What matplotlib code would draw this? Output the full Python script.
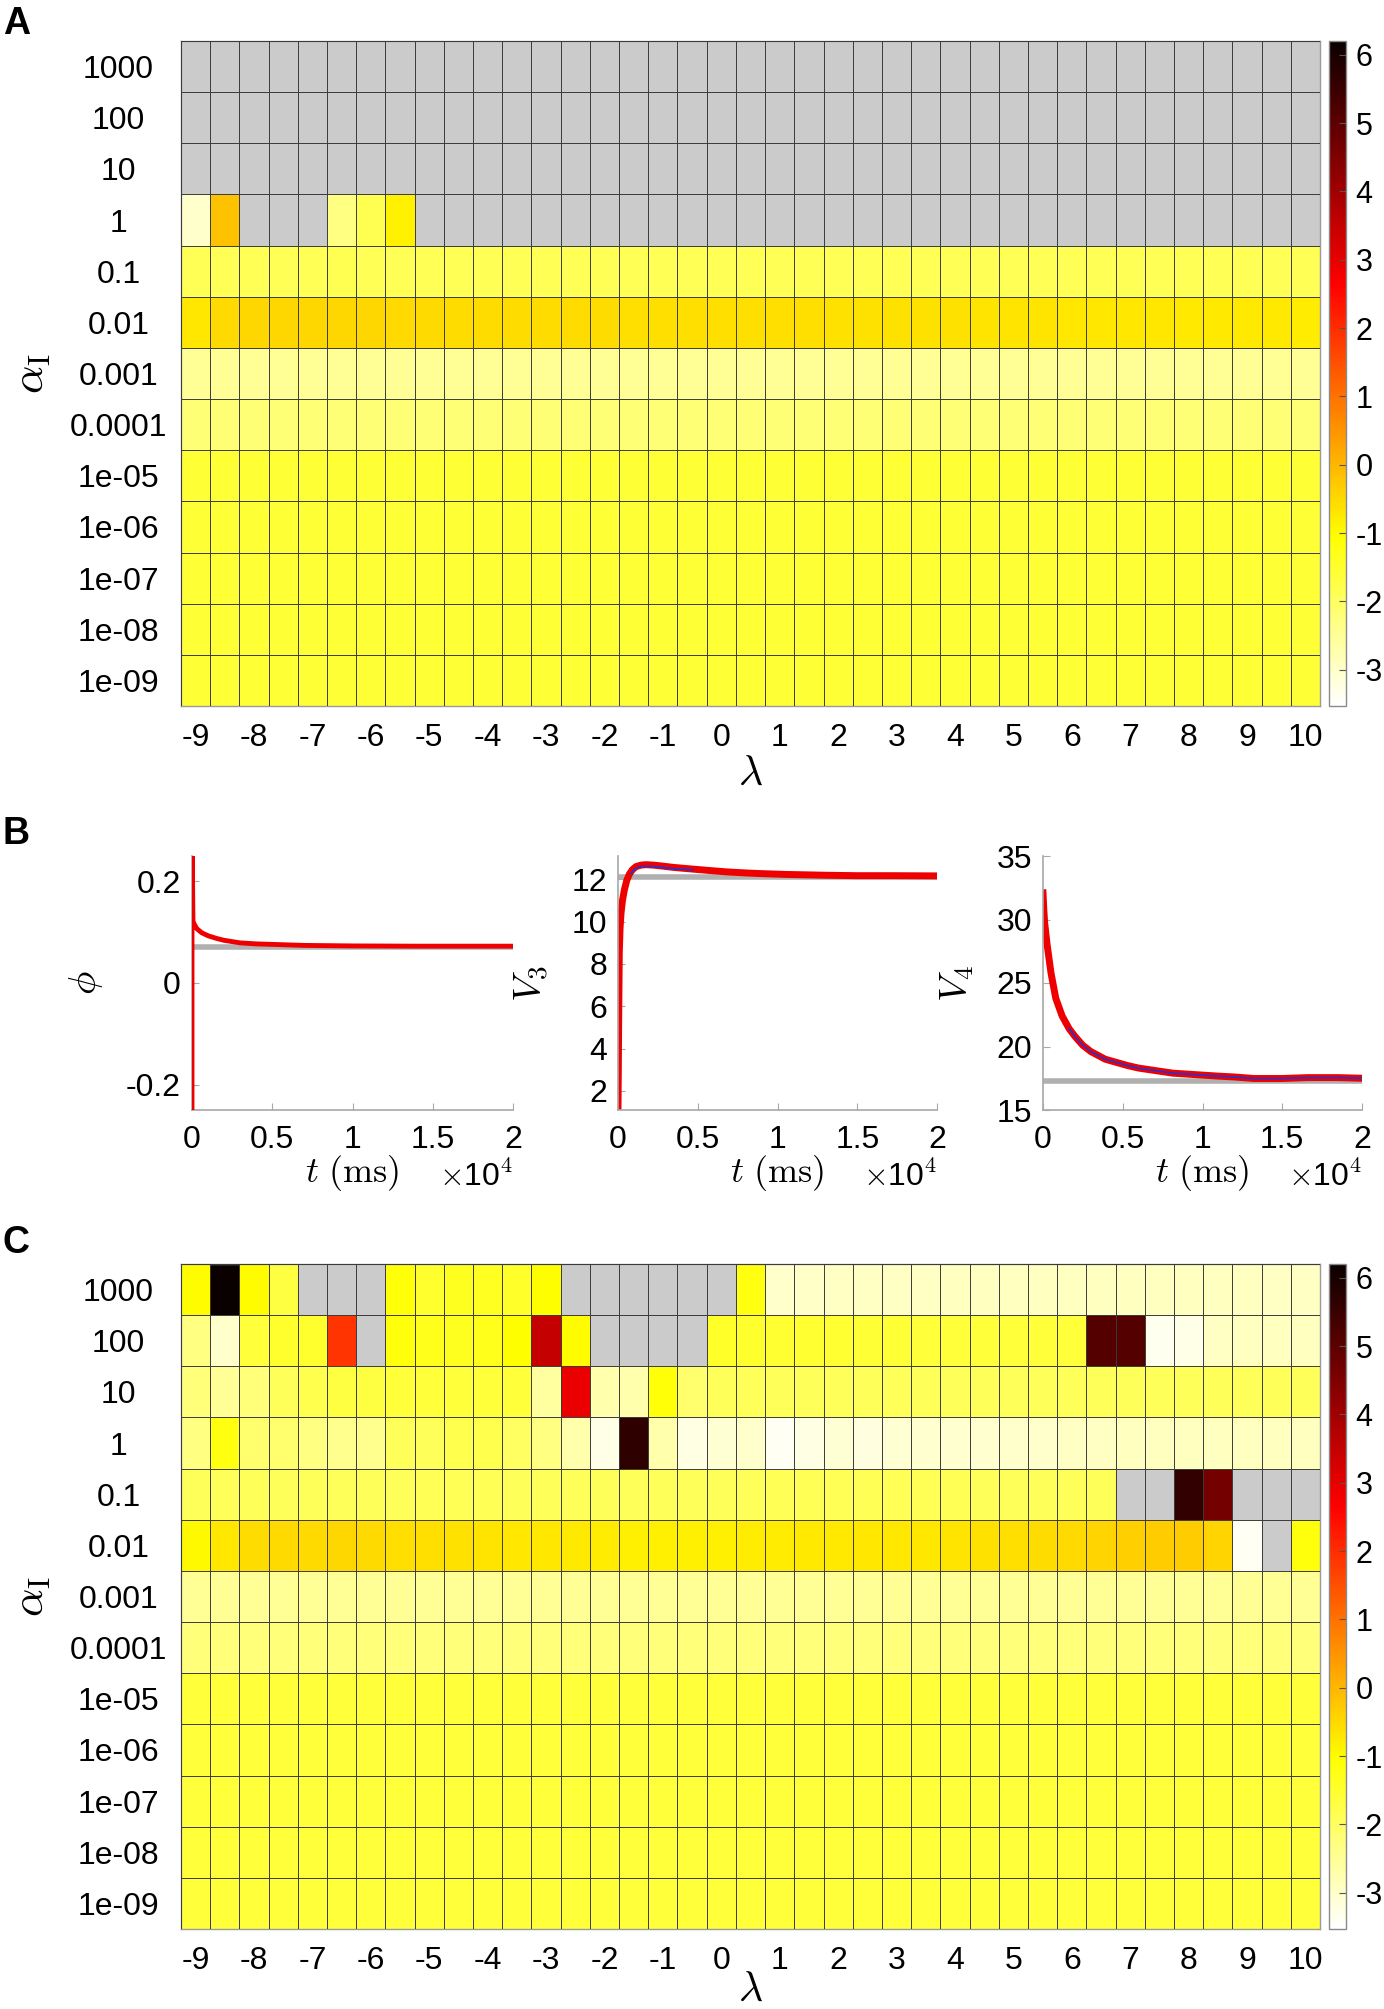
import numpy as np
import matplotlib
matplotlib.use('Agg')
import matplotlib.pyplot as plt
from matplotlib.colors import Normalize

plt.rcParams['font.family'] = ['Liberation Sans', 'DejaVu Sans']
plt.rcParams['mathtext.fontset'] = 'cm'
plt.rcParams['axes.unicode_minus'] = False

nan = np.nan

# ---------------- data ----------------
lambda_vals = [-9, -8.5, -8, -7.5, -7, -6.5, -6, -5.5, -5, -4.5, -4, -3.5, -3, -2.5,
               -2, -1.5, -1, -0.5, 0, 0.5, 1, 1.5, 2, 2.5, 3, 3.5, 4, 4.5, 5, 5.5,
               6, 6.5, 7, 7.5, 8, 8.5, 9, 9.5, 10]
alpha_labels = ['1000', '100', '10', '1', '0.1', '0.01', '0.001', '0.0001',
                '1e-05', '1e-06', '1e-07', '1e-08', '1e-09']
cbar_ticks = [-3, -2, -1, 0, 1, 2, 3, 4, 5, 6]
clim = (-3.53, 6.2)

# Panel A (log10 error), rows from alpha=1000 down to 1e-09
A_1000 = [nan] * 39
A_100 = [nan] * 39
A_10 = [nan] * 39
A_1 = [-3.0, -0.15, nan, nan, nan, -2.3, -1.85, -0.85] + [nan] * 31
A_0p1 = [-1.88, -1.86, -1.87, -1.86, -1.87, -1.85, -1.86, -1.87, -1.86, -1.87,
         -1.86, -1.86, -1.87, -1.86, -1.87, -1.86, -1.86, -1.87, -1.86, -1.87,
         -1.86, -1.87, -1.86, -1.87, -1.86, -1.86, -1.87, -1.86, -1.87, -1.86,
         -1.87, -1.86, -1.87, -1.86, -1.87, -1.86, -1.87, -1.86, -1.87]
A_0p01 = [-0.68, -0.52, -0.48, -0.47, -0.48, -0.46, -0.47, -0.5, -0.52, -0.53,
          -0.54, -0.55, -0.55, -0.56, -0.56, -0.57, -0.58, -0.58, -0.59, -0.6,
          -0.6, -0.6, -0.61, -0.62, -0.62, -0.63, -0.64, -0.65, -0.66, -0.67,
          -0.68, -0.69, -0.7, -0.71, -0.72, -0.73, -0.74, -0.75, -0.76]
A_1em3 = [-2.5, -2.48, -2.5, -2.49, -2.5, -2.48, -2.5, -2.49, -2.5, -2.48,
          -2.5, -2.49, -2.5, -2.48, -2.5, -2.49, -2.5, -2.48, -2.5, -2.49,
          -2.5, -2.48, -2.5, -2.49, -2.5, -2.48, -2.5, -2.49, -2.5, -2.48,
          -2.5, -2.49, -2.5, -2.48, -2.5, -2.49, -2.5, -2.48, -2.5]
A_1em4 = [-2.18, -2.17, -2.18, -2.17, -2.18, -2.17, -2.18, -2.17, -2.18, -2.17,
          -2.18, -2.17, -2.18, -2.17, -2.18, -2.17, -2.18, -2.17, -2.18, -2.17,
          -2.18, -2.17, -2.18, -2.17, -2.18, -2.17, -2.18, -2.17, -2.18, -2.17,
          -2.18, -2.17, -2.18, -2.17, -2.18, -2.17, -2.18, -2.17, -2.18]
A_small = [-1.58, -1.57, -1.58, -1.57, -1.58, -1.57, -1.58, -1.57, -1.58, -1.57,
           -1.58, -1.57, -1.58, -1.57, -1.58, -1.57, -1.58, -1.57, -1.58, -1.57,
           -1.58, -1.57, -1.58, -1.57, -1.58, -1.57, -1.58, -1.57, -1.58, -1.57,
           -1.58, -1.57, -1.58, -1.57, -1.58, -1.57, -1.58, -1.57, -1.58]

# Panel C
C_1000 = [-1.0, 6.2, -1.0, -1.7, nan, nan, nan, -1.1, -1.5, -1.35,
          -1.4, -1.45, -1.05, nan, nan, nan, nan, nan, nan, -1.2,
          -3.0, -2.98, -2.95, -2.95, -2.93, -2.93, -2.92, -2.92, -2.92, -2.92,
          -2.9, -2.9, -2.9, -2.9, -2.9, -2.92, -2.92, -2.95, -2.95]
C_100 = [-2.3, -3.0, -1.6, -1.5, -1.5, 1.9, nan, -1.15, -1.3, -1.35,
         -1.3, -1.05, 3.5, -1.0, nan, nan, nan, nan, -1.45, -1.5,
         -1.55, -1.55, -1.55, -1.58, -1.58, -1.6, -1.6, -1.6, -1.62, -1.6,
         -1.6, 5.1, 5.1, -3.35, -3.3, -2.95, -2.92, -2.9, -2.9]
C_10 = [-2.2, -2.5, -2.2, -1.9, -1.8, -1.7, -1.7, -1.6, -1.6, -1.6,
        -1.6, -1.6, -2.6, 2.95, -2.7, -2.7, -1.1, -2.1, -1.9, -1.9,
        -1.9, -1.9, -1.9, -1.9, -1.9, -1.9, -1.9, -1.9, -1.9, -1.9,
        -1.9, -1.9, -1.9, -1.9, -1.9, -1.9, -1.9, -1.9, -1.9]
C_1 = [-2.3, -1.2, -2.1, -2.1, -2.3, -2.4, -2.4, -1.9, -1.9, -1.8,
       -1.8, -2.0, -2.3, -2.7, -3.3, 5.65, -2.7, -3.25, -3.1, -3.0,
       -3.4, -3.25, -3.1, -3.2, -3.1, -3.05, -3.05, -3.05, -3.0, -3.0,
       -2.95, -2.95, -2.9, -2.9, -2.9, -2.9, -2.9, -2.9, -2.9]
C_0p1 = [-1.92, -1.9, -1.9, -1.9, -1.92, -1.92, -1.92, -1.9, -1.88, -1.88,
         -1.88, -1.9, -1.92, -1.92, -1.9, -1.9, -1.9, -1.9, -1.9, -1.9,
         -1.88, -1.88, -1.88, -1.88, -1.88, -1.86, -1.86, -1.9, -1.9, -1.92,
         -1.92, -1.92, nan, nan, 5.6, 4.65, nan, nan, nan]
C_0p01 = [-0.95, -0.7, -0.55, -0.5, -0.5, -0.48, -0.5, -0.6, -0.6, -0.62,
          -0.65, -0.68, -0.7, -0.75, -0.78, -0.8, -0.8, -0.8, -0.8, -0.78,
          -0.78, -0.75, -0.72, -0.7, -0.7, -0.68, -0.65, -0.62, -0.6, -0.55,
          -0.5, -0.45, -0.35, -0.3, -0.3, -0.45, -3.4, nan, -1.15]
C_1em3 = [-2.5, -2.48, -2.5, -2.49, -2.5, -2.48, -2.5, -2.49, -2.5, -2.48,
          -2.5, -2.49, -2.5, -2.48, -2.5, -2.49, -2.5, -2.48, -2.5, -2.49,
          -2.5, -2.48, -2.5, -2.49, -2.5, -2.48, -2.5, -2.49, -2.5, -2.48,
          -2.5, -2.49, -2.5, -2.48, -2.5, -2.49, -2.5, -2.48, -2.5]
C_1em4 = [-2.22, -2.21, -2.22, -2.21, -2.22, -2.21, -2.22, -2.21, -2.22, -2.21,
          -2.22, -2.21, -2.22, -2.21, -2.22, -2.21, -2.22, -2.21, -2.22, -2.21,
          -2.22, -2.21, -2.22, -2.21, -2.22, -2.21, -2.22, -2.21, -2.22, -2.21,
          -2.22, -2.21, -2.22, -2.21, -2.22, -2.21, -2.22, -2.21, -2.22]
C_small = [-1.62, -1.61, -1.62, -1.61, -1.62, -1.61, -1.62, -1.61, -1.62, -1.61,
           -1.62, -1.61, -1.62, -1.61, -1.62, -1.61, -1.62, -1.61, -1.62, -1.61,
           -1.62, -1.61, -1.62, -1.61, -1.62, -1.61, -1.62, -1.61, -1.62, -1.61,
           -1.62, -1.61, -1.62, -1.61, -1.62, -1.61, -1.62, -1.61, -1.62]

A_data = np.array([A_1000, A_100, A_10, A_1, A_0p1, A_0p01, A_1em3, A_1em4,
                   A_small, A_small, A_small, A_small, A_small])
C_data = np.array([C_1000, C_100, C_10, C_1, C_0p1, C_0p01, C_1em3, C_1em4,
                   C_small, C_small, C_small, C_small, C_small])

# Panel B time courses (t in ms)
t_phi = [0, 0, 0, 60, 150, 300, 600, 1000, 1500, 2000, 3000, 4000, 5000, 7000,
         10000, 14000, 20000]
phi_red = [-0.3, 0.3, 0.3, 0.122, 0.115, 0.107, 0.099, 0.093, 0.088, 0.084, 0.079,
           0.077, 0.076, 0.074, 0.073, 0.0725, 0.0725]
phi_ref = 0.070

t_v3 = [0, 20, 40, 80, 130, 190, 280, 400, 550, 710, 900, 1130, 1450, 1760, 2200,
        2600, 3500, 4700, 5800, 6800, 8000, 8900, 10500, 13100, 15000, 17300, 20000]
v3_red = [1.1, 3.0, 5.1, 8.5, 9.7, 10.4, 11.0, 11.5, 11.95, 12.24, 12.45, 12.6,
          12.67, 12.69, 12.67, 12.64, 12.56, 12.48, 12.41, 12.35, 12.3, 12.27,
          12.23, 12.19, 12.17, 12.17, 12.16]
t_v3_blue = [800, 1130, 1450, 1760, 2200, 2600, 3500, 4700]
v3_blue = [12.28, 12.52, 12.6, 12.62, 12.6, 12.57, 12.5, 12.44]
v3_ref = 12.1

t_v4 = [0, 50, 100, 250, 500, 800, 1200, 1640, 2000, 2490, 3000, 3900, 5300, 6000,
        8140, 10960, 12000, 13220, 15000, 16600, 18500, 20000]
v4_red = [32.1, 30.8, 29.8, 28.1, 25.8, 23.8, 22.4, 21.4, 20.8, 20.1, 19.6, 19.0,
          18.5, 18.3, 17.9, 17.67, 17.6, 17.48, 17.48, 17.55, 17.55, 17.5]
v4_ref = 17.3

# ---------------- figure ----------------
W, H = 1384, 2009
fig = plt.figure(figsize=(W / 100, H / 100), dpi=100)

cmap = plt.get_cmap('hot_r').copy()
cmap.set_bad('#cbcbcb')
norm = Normalize(vmin=clim[0], vmax=clim[1])

TICK_FS = 23

def fx(px):
    return px / W

def fy(py_top, py_bot):
    return 1 - py_bot / H, (py_bot - py_top) / H


def heatmap(ax, data, xlab_y):
    nrow, ncol = data.shape
    m = ax.pcolormesh(np.arange(ncol + 1), np.arange(nrow + 1),
                      np.ma.masked_invalid(data), cmap=cmap, norm=norm,
                      edgecolors='none')
    for i in range(ncol + 1):
        ax.axvline(i, color='#3a3a3a', lw=0.7, zorder=3)
    for j in range(nrow + 1):
        ax.axhline(j, color='#3a3a3a', lw=0.7, zorder=3)
    ax.set_xlim(0, ncol)
    ax.set_ylim(nrow, 0)
    xt = [i + 0.5 for i, v in enumerate(lambda_vals) if float(v).is_integer()]
    xl = [str(int(v)) for v in lambda_vals if float(v).is_integer()]
    ax.set_xticks(xt)
    ax.set_xticklabels(xl)
    ax.set_yticks([j + 0.5 for j in range(nrow)])
    ax.set_yticklabels(alpha_labels, ha='center')
    ax.tick_params(axis='both', length=0, labelsize=TICK_FS)
    ax.tick_params(axis='y', pad=45)
    ax.tick_params(axis='x', pad=12)
    for s in ax.spines.values():
        s.set_color('#9a9a9a')
        s.set_linewidth(1.0)
    ax.set_ylabel(r'$\alpha_{\rm I}$', fontsize=32, labelpad=0)
    ax.yaxis.set_label_coords(-0.112, 0.5)
    ax.set_xlabel(r'$\lambda$', fontsize=30)
    ax.xaxis.set_label_coords(0.5, xlab_y)
    return m


def colorbar(mappable, rect):
    cax = fig.add_axes(rect)
    cb = fig.colorbar(mappable, cax=cax, ticks=cbar_ticks)
    cb.outline.set_edgecolor('#8a8a8a')
    cb.outline.set_linewidth(1.0)
    cax.tick_params(direction='in', length=5, width=0.8, color='#555555',
                    labelsize=22, pad=7)
    return cb

# Panel A
b, h = fy(41, 706)
axA = fig.add_axes([fx(181), b, fx(1320 - 181), h])
mA = heatmap(axA, A_data, -0.072)
colorbar(mA, [fx(1329), b, fx(17), h])

# Panel C
b, h = fy(1264, 1929)
axC = fig.add_axes([fx(181), b, fx(1320 - 181), h])
mC = heatmap(axC, C_data, -0.062)
colorbar(mC, [fx(1329), b, fx(17), h])

# Panel B
bB, hB = fy(856, 1110)
lefts = [(192, 513), (618, 937), (1043, 1362)]
axes_B = []
for (l, r) in lefts:
    ax = fig.add_axes([fx(l), bB, fx(r - l), hB])
    axes_B.append(ax)

gray_line = '#b0b0b0'

def style_B(ax, ylim, yticks, yticklabels, ylabel, ylab_x):
    ax.set_xlim(0, 20000)
    ax.set_ylim(*ylim)
    ax.set_xticks([0, 5000, 10000, 15000, 20000])
    ax.set_xticklabels(['0', '0.5', '1', '1.5', '2'])
    ax.set_yticks(yticks)
    ax.set_yticklabels(yticklabels)
    for s in ['top', 'right']:
        ax.spines[s].set_visible(False)
    for s in ['left', 'bottom']:
        ax.spines[s].set_color('#a8a8a8')
        ax.spines[s].set_linewidth(1.2)
    ax.tick_params(direction='in', length=5, color='#a8a8a8', labelsize=TICK_FS)
    ax.tick_params(axis='y', pad=8)
    ax.tick_params(axis='x', pad=11)
    ax.set_xlabel(r'$t\ \mathrm{(ms)}$', fontsize=26)
    ax.xaxis.set_label_coords(0.5, -0.17)
    ax.set_ylabel(ylabel, fontsize=28)
    ax.yaxis.set_label_coords(ylab_x, 0.5)
    ax.text(1.0, -0.2, r'$\times$10$^{4}$', transform=ax.transAxes,
            ha='right', va='top', fontsize=23)

ax1, ax2, ax3 = axes_B
ax1.plot([0, 20000], [phi_ref, phi_ref], color=gray_line, lw=4.0, solid_capstyle='butt', zorder=1)
ax1.plot(t_phi, phi_red, color='#ee0000', lw=3.5, zorder=3, clip_on=True)
style_B(ax1, (-0.25, 0.25), [-0.2, 0, 0.2], ['-0.2', '0', '0.2'], r'$\phi$', -0.27)

ax2.plot([0, 20000], [v3_ref, v3_ref], color=gray_line, lw=4.0, solid_capstyle='butt', zorder=1)
ax2.plot(t_v3, v3_red, color='#ee0000', lw=5.0, zorder=2)
ax2.plot(t_v3_blue, v3_blue, color='#3030c8', lw=1.3, zorder=3)
style_B(ax2, (1.1, 13.1), [2, 4, 6, 8, 10, 12], ['2', '4', '6', '8', '10', '12'],
        r'$V_3$', -0.21)

ax3.plot([0, 20000], [v4_ref, v4_ref], color=gray_line, lw=4.0, solid_capstyle='butt', zorder=1)
ax3.plot(t_v4, v4_red, color='#ee0000', lw=5.0, zorder=2)
ax3.plot(t_v4[7:], v4_red[7:], color='#3030c8', lw=1.3, zorder=3)
style_B(ax3, (15, 35), [15, 20, 25, 30, 35], ['15', '20', '25', '30', '35'],
        r'$V_4$', -0.21)

# Panel letters
fig.text(0.002, 0.997, 'A', fontsize=27, fontweight='bold', ha='left', va='top')
fig.text(0.002, 0.594, 'B', fontsize=27, fontweight='bold', ha='left', va='top')
fig.text(0.002, 0.390, 'C', fontsize=27, fontweight='bold', ha='left', va='top')

fig.savefig('out.png', dpi=100)
